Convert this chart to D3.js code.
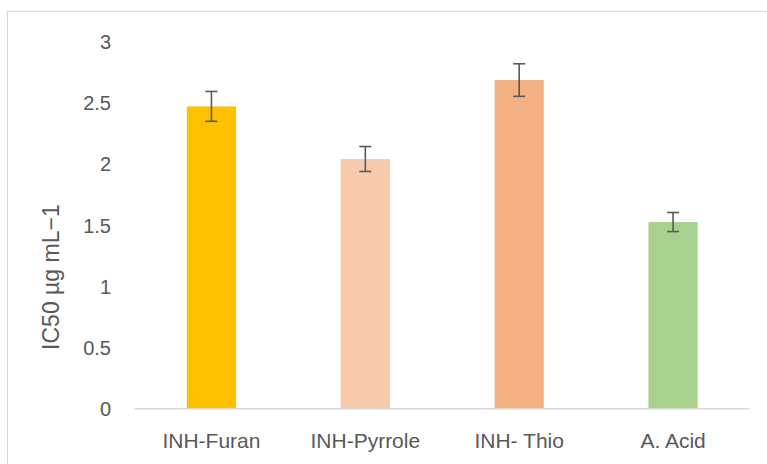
<!DOCTYPE html>
<html>
<head>
<meta charset="utf-8">
<script src="https://cdn.jsdelivr.net/npm/d3@7/dist/d3.min.js"></script>
<style>
  html, body { margin: 0; padding: 0; background: #fff; }
  svg { display: block; }
  text { font-family: "Liberation Sans", Arial, sans-serif; fill: #595959; }
</style>
</head>
<body>
<svg id="chart" width="767" height="464"></svg>
<script>
const categories = ["INH-Furan", "INH-Pyrrole", "INH- Thio", "A. Acid"];
const values = [2.47, 2.04, 2.685, 1.525];
const errors = [0.122, 0.102, 0.133, 0.078];
const colors = ["#FFC000", "#F8CBAD", "#F4B183", "#A9D18E"];
const yTicks = [0, 0.5, 1, 1.5, 2, 2.5, 3];
const yTitle = "IC50 µg mL\u22121";

const svg = d3.select("#chart");
const W = 767, H = 464;
const m = { left: 134.5, right: 750, top: 41.5, bottom: 408.7 };

// outer frame
svg.append("rect")
  .attr("x", 7.5).attr("y", 11.5)
  .attr("width", W).attr("height", H)
  .attr("fill", "none").attr("stroke", "#d9d9d9").attr("stroke-width", 1.2);

const x = d3.scaleBand().domain(categories).range([m.left, m.right]).paddingInner(0.68).paddingOuter(0.34);
const y = d3.scaleLinear().domain([0, 3]).range([m.bottom, m.top]);

// bars
svg.append("g").selectAll("rect").data(categories).join("rect")
  .attr("x", d => x(d))
  .attr("width", x.bandwidth())
  .attr("y", (d, i) => y(values[i]))
  .attr("height", (d, i) => y(0) - y(values[i]))
  .attr("fill", (d, i) => colors[i]);

// baseline
svg.append("line")
  .attr("x1", m.left).attr("x2", m.right)
  .attr("y1", y(0)).attr("y2", y(0))
  .attr("stroke", "#d9d9d9").attr("stroke-width", 1.5);

// y tick labels
const yAxis = d3.axisLeft(y).tickValues(yTicks).tickSize(0).tickPadding(0).tickFormat(d3.format("~g"));
const gy = svg.append("g").attr("transform", "translate(111,0)").call(yAxis);
gy.select(".domain").remove();
gy.selectAll("text").style("font-size", "20px").attr("fill", "#595959").attr("dy", "0.35em")
  .style("font-family", "'Liberation Sans', Arial, sans-serif");

// x labels
const xAxis = d3.axisBottom(x).tickSize(0).tickPadding(0);
const gx = svg.append("g").attr("transform", `translate(0,${y(0)})`).call(xAxis);
gx.select(".domain").remove();
gx.selectAll("text").style("font-size", "21px").attr("fill", "#595959").attr("y", 39).attr("dy", 0)
  .style("font-family", "'Liberation Sans', Arial, sans-serif");

// error bars
const eg = svg.append("g").attr("stroke", "#595959").attr("stroke-width", 1.6);
categories.forEach((c, i) => {
  const cx = x(c) + x.bandwidth() / 2;
  const hi = y(values[i] + errors[i]), lo = y(values[i] - errors[i]);
  eg.append("line").attr("x1", cx).attr("x2", cx).attr("y1", hi).attr("y2", lo);
  eg.append("line").attr("x1", cx - 6).attr("x2", cx + 6).attr("y1", hi).attr("y2", hi);
  eg.append("line").attr("x1", cx - 6).attr("x2", cx + 6).attr("y1", lo).attr("y2", lo);
});

// y title
svg.append("text")
  .attr("transform", `translate(59,${(y(0)+y(3))/2 + 52}) rotate(-90)`)
  .attr("text-anchor", "middle")
  .style("font-size", "23px")
  .text(yTitle);
</script>
</body>
</html>
